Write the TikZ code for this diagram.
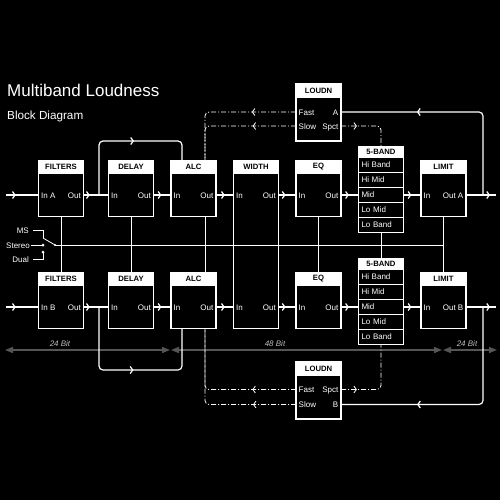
\documentclass[tikz,border=0pt]{standalone}
\usepackage{fontspec}
\setmainfont{Liberation Sans}
\usetikzlibrary{positioning,arrows.meta,decorations.markings}
\definecolor{barcol}{HTML}{555555}
\definecolor{bitcol}{HTML}{BBBBBB}
\tikzset{chev/.style={postaction={decorate},
    decoration={markings, mark=at position #1 with {\arrow{Straight Barb[length=2.5pt,width=7pt]}}}}}

\begin{document}
\begin{tikzpicture}[x=1pt, y=-1pt, node distance=62.5pt]
\tikzstyle{blk} = [rectangle, draw=white, line width=1.2pt, minimum width=45pt, minimum height=43pt, inner sep=0pt, outer sep=0pt]
\tikzstyle{head} = [rectangle, draw=white, fill=white, line width=1.2pt, minimum width=45pt, minimum height=13pt, inner sep=0pt, outer sep=0pt, text=black, font=\fontsize{7.7}{8}\selectfont\bfseries]
\tikzstyle{band} = [rectangle, draw=white, line width=1.2pt, minimum width=45pt, minimum height=15pt, text width=39pt, inner xsep=3pt, inner ysep=0pt, outer sep=0pt, align=left, text=white, font=\fontsize{8}{9}\selectfont]
\tikzstyle{port} = [text=white, inner sep=2.5pt, text height=6pt, text depth=0pt, font=\fontsize{8}{9}\selectfont]
\tikzstyle{wire} = [draw=white, line width=1.2pt]
\tikzstyle{link} = [draw=white, line width=0.8pt]
\tikzstyle{ctrl} = [draw=white, line width=0.8pt, dash pattern=on 5pt off 2pt on 1pt off 2pt]
\tikzstyle{bits} = [draw=barcol, fill=barcol, line width=1.5pt, {Triangle[length=8pt,width=6pt]}-{Triangle[length=8pt,width=6pt]}]
\tikzstyle{bitlbl} = [text=bitcol, inner sep=0pt, font=\fontsize{8}{9}\selectfont\itshape]

% background and titles
\fill[black] (0,0) rectangle (500,500);
\node (title) [anchor=base west, inner sep=0pt, text=white, font=\fontsize{17}{20}\selectfont] at (7,97) {Multiband Loudness};
\node (subtitle) [anchor=base west, inner sep=0pt, text=white, font=\fontsize{11.7}{14}\selectfont] at (7,120) {Block Diagram};

% bit width bar
\coordinate (bb0) at (5,350);
\coordinate (bb1) at (170,350);
\coordinate (bb2) at (171,350);
\coordinate (bb3) at (442,350);
\coordinate (bb4) at (443,350);
\coordinate (bb5) at (497,350);
\draw [bits] (bb0) -- (bb1);
\draw [bits] (bb2) -- (bb3);
\draw [bits] (bb4) -- (bb5);
\node (bit1) [bitlbl] at (60,344) {24 Bit};
\node (bit2) [bitlbl] at (275,344) {48 Bit};
\node (bit3) [bitlbl] at (467,344) {24 Bit};

% channel A
\node (f1) [blk] at (61,195) {};
\node (d1) [blk] at (131,195) {};
\node (a1) [blk, right of=d1] {};
\node (w) [blk, minimum height=155pt] at (256,251) {};
\node (e1) [blk] at (318.5,195) {};
\node (b1) [band, right of=e1] {Mid};
\node (l1) [blk, right of=b1] {};
\node (f1h) [head, above=0pt of f1] {FILTERS};
\node (d1h) [head, above=0pt of d1] {DELAY};
\node (a1h) [head, above=0pt of a1] {ALC};
\node (wh) [head, above=0pt of w] {WIDTH};
\node (e1h) [head, above=0pt of e1] {EQ};
\node (l1h) [head, above=0pt of l1] {LIMIT};
\node (b1hm) [band, above=0pt of b1] {Hi Mid};
\node (b1hb) [band, above=0pt of b1hm] {Hi Band};
\node (b1h) [head, minimum height=11pt, above=0pt of b1hb] {5-BAND};
\node (b1lm) [band, below=0pt of b1] {Lo Mid};
\node (b1lb) [band, below=0pt of b1lm] {Lo Band};
\node (f1in) [port, anchor=west] at (f1.west) {In A};
\node (f1out) [port, anchor=east] at (f1.east) {Out};
\node (d1in) [port, anchor=west] at (d1.west) {In};
\node (d1out) [port, anchor=east] at (d1.east) {Out};
\node (a1in) [port, anchor=west] at (a1.west) {In};
\node (a1out) [port, anchor=east] at (a1.east) {Out};
\node (w1in) [port, anchor=west] at (a1.east -| w.west) {In};
\node (w1out) [port, anchor=east] at (a1.east -| w.east) {Out};
\node (e1in) [port, anchor=west] at (e1.west) {In};
\node (e1out) [port, anchor=east] at (e1.east) {Out};
\node (l1in) [port, anchor=west] at (l1.west) {In};
\node (l1out) [port, anchor=east] at (l1.east) {Out A};

% channel B
\node (f2) [blk] at (61,307) {};
\node (d2) [blk] at (131,307) {};
\node (a2) [blk, right of=d2] {};
\node (e2) [blk] at (318.5,307) {};
\node (b2) [band, right of=e2] {Mid};
\node (l2) [blk, right of=b2] {};
\node (f2h) [head, above=0pt of f2] {FILTERS};
\node (d2h) [head, above=0pt of d2] {DELAY};
\node (a2h) [head, above=0pt of a2] {ALC};
\node (e2h) [head, above=0pt of e2] {EQ};
\node (l2h) [head, above=0pt of l2] {LIMIT};
\node (b2hm) [band, above=0pt of b2] {Hi Mid};
\node (b2hb) [band, above=0pt of b2hm] {Hi Band};
\node (b2h) [head, minimum height=11pt, above=0pt of b2hb] {5-BAND};
\node (b2lm) [band, below=0pt of b2] {Lo Mid};
\node (b2lb) [band, below=0pt of b2lm] {Lo Band};
\node (f2in) [port, anchor=west] at (f2.west) {In B};
\node (f2out) [port, anchor=east] at (f2.east) {Out};
\node (d2in) [port, anchor=west] at (d2.west) {In};
\node (d2out) [port, anchor=east] at (d2.east) {Out};
\node (a2in) [port, anchor=west] at (a2.west) {In};
\node (a2out) [port, anchor=east] at (a2.east) {Out};
\node (w2in) [port, anchor=west] at (a2.east -| w.west) {In};
\node (w2out) [port, anchor=east] at (a2.east -| w.east) {Out};
\node (e2in) [port, anchor=west] at (e2.west) {In};
\node (e2out) [port, anchor=east] at (e2.east) {Out};
\node (l2in) [port, anchor=west] at (l2.west) {In};
\node (l2out) [port, anchor=east] at (l2.east) {Out B};

% loudness meters
\node (n1) [blk, minimum height=44pt] at (318.5,119) {};
\node (n1h) [head, above=0pt of n1] {LOUDN};
\coordinate (n1f) at ([yshift=7pt]n1.west);
\coordinate (n1s) at ([yshift=-7pt]n1.west);
\coordinate (n1a) at ([yshift=7pt]n1.east);
\coordinate (n1p) at ([yshift=-7pt]n1.east);
\node (n1fast) [port, anchor=west] at (n1f) {Fast};
\node (n1slow) [port, anchor=west] at (n1s) {Slow};
\node (n1out) [port, anchor=east] at (n1a) {A};
\node (n1spct) [port, anchor=east] at (n1p) {Spct};
\node (n2) [blk, minimum height=44pt] at (318.5,397) {};
\node (n2h) [head, above=0pt of n2] {LOUDN};
\coordinate (n2f) at ([yshift=7.5pt]n2.west);
\coordinate (n2s) at ([yshift=-7.5pt]n2.west);
\coordinate (n2p) at ([yshift=7.5pt]n2.east);
\coordinate (n2b) at ([yshift=-7.5pt]n2.east);
\node (n2fast) [port, anchor=west] at (n2f) {Fast};
\node (n2slow) [port, anchor=west] at (n2s) {Slow};
\node (n2spct) [port, anchor=east] at (n2p) {Spct};
\node (n2out) [port, anchor=east] at (n2b) {B};

% mode switch
\node (ms) [port, anchor=east, inner xsep=4pt] at (33,230) {MS};
\node (st) [port, anchor=east, inner xsep=1pt] at (31,245) {Stereo};
\node (du) [port, anchor=east, inner xsep=4pt] at (33,259) {Dual};
\coordinate (swms) at (43,238);
\coordinate (swst) at (43,245);
\coordinate (swdu) at (43,252);
\coordinate (sw) at (55,245);
\draw [link] (ms.east) -| (swms);
\draw [link] (st.east) -- (swst);
\draw [link] (du.east) -| (swdu);
\draw [link] (swms) -- (sw);
\fill [white] (swst) circle (1.5pt);
\fill [white] (swdu) circle (1.5pt);
\fill [white] (sw) circle (1.2pt);
\draw [link] (sw) -- (sw -| l1.south);

% stereo links
\draw [link] (f1.south) -- (f2h.north);
\draw [link] (d1.south) -- (d2h.north);
\draw [link] ([xshift=11.5pt]a1.south) -- ([xshift=11.5pt]a2h.north);
\draw [link] (e1.south) -- (e2h.north);
\draw [link] (b1lb.south) -- (b2h.north);
\draw [link] (l1.south) -- (l2h.north);

% signal path A
\coordinate (in1) at (6,195);
\coordinate (out1) at (496,195);
\coordinate (tap1) at (99,195);
\coordinate (tapA) at (483,195);
\draw [wire, chev=0.3] (in1) -- (f1.west);
\draw [wire, chev=0.25] (f1.east) -- (d1.west);
\draw [wire, chev=0.45] (d1.east) -- (a1.west);
\draw [wire, chev=0.5] (a1.east) -- (a1.east -| w.west);
\draw [wire, chev=0.4] (a1.east -| w.east) -- (e1.west);
\draw [wire, chev=0.45] (e1.east) -- (b1.west);
\draw [wire, chev=0.45] (b1.east) -- (l1.west);
\draw [wire, chev=0.8] (l1.east) -- (out1);
\draw [wire, rounded corners=4pt, chev=0.57] (tap1) -- ++(0,-54) -| ([xshift=-11.5pt]a1h.north);
\draw [wire, rounded corners=4pt, chev=0.66] (tapA) |- (n1a);
\draw [ctrl, rounded corners=4pt, chev=0.32] (n1f) -| ([xshift=11.5pt]a1h.north);
\draw [ctrl, rounded corners=4pt, chev=0.35] (n1s) -| ([xshift=11.5pt]a1h.north);
\draw [ctrl, rounded corners=4pt, chev=0.27] (n1p) -| (b1h.north);

% signal path B
\coordinate (in2) at (6,307);
\coordinate (out2) at (496,307);
\coordinate (tap2) at (99,307);
\coordinate (tapB) at (483,307);
\draw [wire, chev=0.3] (in2) -- (f2.west);
\draw [wire, chev=0.25] (f2.east) -- (d2.west);
\draw [wire, chev=0.45] (d2.east) -- (a2.west);
\draw [wire, chev=0.5] (a2.east) -- (a2.east -| w.west);
\draw [wire, chev=0.4] (a2.east -| w.east) -- (e2.west);
\draw [wire, chev=0.45] (e2.east) -- (b2.west);
\draw [wire, chev=0.45] (b2.east) -- (l2.west);
\draw [wire, chev=0.8] (l2.east) -- (out2);
\draw [wire, rounded corners=4pt, chev=0.52] (tap2) -- ++(0,63) -| ([xshift=-11.5pt]a2.south);
\draw [wire, rounded corners=4pt, chev=0.68] (tapB) |- (n2b);
\draw [ctrl, rounded corners=4pt, chev=0.29] (n2f) -| ([xshift=11.5pt]a2.south);
\draw [ctrl, rounded corners=4pt, chev=0.26] (n2s) -| ([xshift=11.5pt]a2.south);
\draw [ctrl, rounded corners=4pt, chev=0.19] (n2p) -| (b2lb.south);
\end{tikzpicture}
\end{document}
